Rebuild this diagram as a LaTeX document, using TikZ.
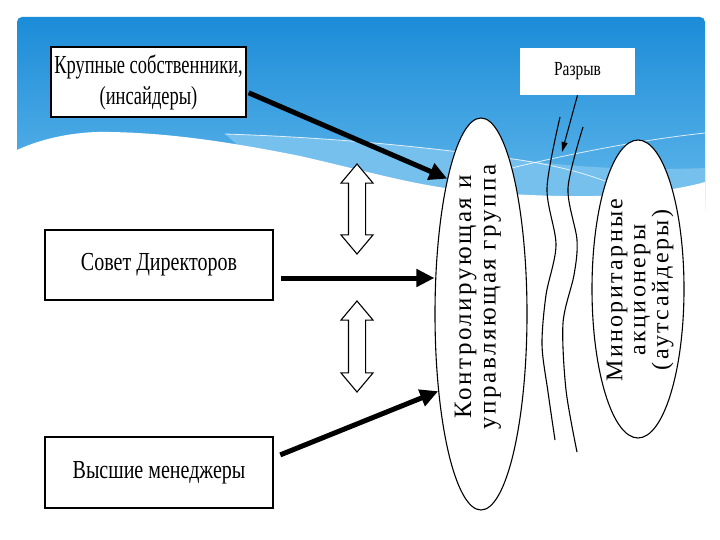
\documentclass[tikz,border=0pt]{standalone}
\usepackage{fontspec}
\usepackage{xcolor}
\usepackage{tikz}
\usetikzlibrary{arrows.meta,shapes.geometric,shapes.arrows,positioning}
\newfontfamily\slidefont[FakeStretch=0.77]{Liberation Serif}
\newfontfamily\narrowfont[FakeStretch=0.71]{Liberation Serif}
\newfontfamily\spacedfont[LetterSpace=10]{Liberation Serif}
\definecolor{SkyTop}{RGB}{28,140,216}
\definecolor{SkyLow}{RGB}{100,185,235}
\definecolor{SkyBand}{RGB}{118,192,238}

\begin{document}
\begin{tikzpicture}[
    x=1pt, y=-1pt,
    box/.style={
      draw,
      line width=1.6pt,
      fill=white,
      align=center,
      font=\slidefont\fontsize{26}{31}\selectfont,
      inner sep=0pt
    },
    group/.style={draw, ellipse, line width=1.1pt, fill=white, inner sep=0pt},
    grouptext/.style={
      rotate=90,
      align=center,
      font=\spacedfont\fontsize{25}{24.5}\selectfont
    },
    link/.style={
      draw,
      fill=white,
      line width=1.1pt,
      double arrow,
      rotate=90,
      minimum width=31pt,
      double arrow head extend=7.5pt,
      double arrow tip angle=80,
      inner xsep=0pt,
      inner ysep=8pt
    },
    arrow/.style={-{Triangle[length=18pt, width=17pt]}, line width=5pt},
    thin arrow/.style={-{Triangle[length=10pt, width=6pt]}, line width=1.1pt},
    wave/.style={line width=1.1pt}
  ]
    \useasboundingbox (0,0) rectangle (720,540);
    \fill[white] (0,0) rectangle (720,540);
    \shade[top color=SkyTop, bottom color=SkyLow, rounded corners=5pt]
      (17,17) rectangle (705,215);
    \fill[SkyBand] (225,134) .. controls (350,138) and (450,150) .. (520,160)
      .. controls (600,170) and (660,170) .. (705,168) -- (705,200)
      -- (300,200) -- cycle;
    \fill[white] (17,150) .. controls (45,137) and (80,131) .. (110,132)
      .. controls (170,133) and (230,142) .. (300,156)
      .. controls (370,172) and (410,184) .. (460,190)
      .. controls (540,198) and (620,198) .. (660,191)
      .. controls (680,188) and (695,185) .. (705,182)
      -- (705,230) -- (17,230) -- cycle;
    \draw[white, line width=0.8pt, opacity=0.8]
      (225,134) .. controls (350,138) and (450,150) .. (520,160)
      .. controls (560,166) and (590,175) .. (610,183);
    \draw[white, line width=0.8pt, opacity=0.8]
      (480,176) .. controls (560,155) and (640,140) .. (705,133);

    \node[box, minimum width=195pt, minimum height=70pt,
      font=\narrowfont\fontsize{26}{31}\selectfont] (large-owners)
      at (148.5,82) {Крупные собственники,\\(инсайдеры)};
    \node[box, minimum width=228pt, minimum height=70pt] (board)
      at (159,265) {Совет Директоров};
    \node[box, minimum width=228pt, minimum height=71pt] (top-managers)
      at (159,472.5) {Высшие менеджеры};
    \node[fill=white, minimum width=115pt, minimum height=47pt,
      font=\slidefont\fontsize{20}{22}\selectfont] (gap-label)
      at (577.5,71.5) {Разрыв};

    \node[group, minimum width=92pt, minimum height=392pt] (control-group)
      at (481,314) {};
    \node[grouptext] (control-text) at (478,297)
      {Контролирующая и\\управляющая группа};
    \node[group, minimum width=92pt, minimum height=298pt] (minority-group)
      at (638,289) {};
    \node[grouptext, font=\spacedfont\fontsize{24}{23}\selectfont]
      (minority-text) at (640,290) {Миноритарные\\акционеры\\(аутсайдеры)};

    \draw[wave] plot[smooth] coordinates {(560,117) (547,188) (556,245)
      (546,295) (542,345) (548,392) (555,440)};
    \draw[wave] plot[smooth] coordinates {(583,127) (568,188) (577,240)
      (574,275) (563,323) (566,390) (577,452)};

    \node[link, minimum height=90pt] (link-upper) at (357,209) {};
    \node[link, minimum height=91pt] (link-lower) at (357,346.5) {};

    \coordinate (gap-tip) at (562,152);

    \draw[arrow, shorten <=2pt] ([yshift=-10pt]large-owners.east)
      -- (control-group.104);
    \draw[arrow, shorten <=7pt] ([yshift=-13pt]board.east)
      -- ([yshift=-13pt]board.east -| control-group.west);
    \draw[arrow, shorten <=7pt] ([yshift=15pt]top-managers.east)
      -- (control-group.241);
    \draw[thin arrow] (gap-label.south) -- (gap-tip);
  \end{tikzpicture}
\end{document}
